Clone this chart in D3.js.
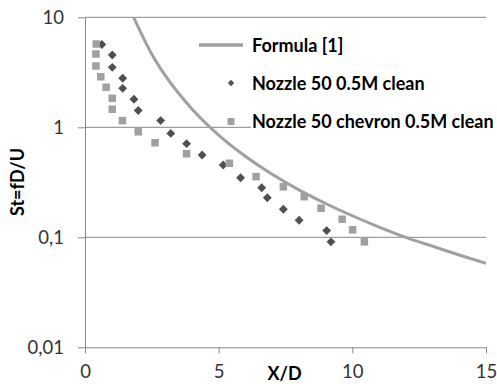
<!DOCTYPE html>
<html>
<head>
<meta charset="utf-8">
<script src="https://cdn.jsdelivr.net/npm/d3@7"></script>
<style>
  html, body { margin: 0; padding: 0; background: #fff; }
  svg { display: block; font-family: Lato, 'Open Sans', sans-serif; }
</style>
</head>
<body>
<div id="chart"></div>
<script>
// values
const xTicks = [0, 5, 10, 15];
const yTicks = [0.01, 0.1, 1, 10];
const yTickLabels = ['0,01', '0,1', '1', '10'];

const formulaX = [1.82, 2.5, 3, 4, 5, 6, 7, 8, 9, 10, 11, 12, 13, 14, 15];
const formulaY = [10, 4.62, 2.96, 1.47, 0.85, 0.545, 0.374, 0.27, 0.203, 0.157, 0.124, 0.1, 0.083, 0.069, 0.058];

const cleanX = [0.63, 1.02, 1.02, 1.41, 1.41, 1.83, 1.99, 2.83, 3.21, 3.8, 4.38, 5.17, 5.82, 6.61, 6.82, 7.42, 8.01, 9.04, 9.2];
const cleanY = [5.66, 4.54, 3.51, 2.79, 2.26, 1.8, 1.42, 1.15, 0.88, 0.71, 0.56, 0.454, 0.348, 0.282, 0.229, 0.18, 0.143, 0.115, 0.091];

const chevronX = [0.42, 0.41, 0.41, 0.59, 0.79, 1.02, 1.02, 1.4, 1.99, 2.62, 3.8, 5.4, 6.4, 7.42, 8.2, 8.83, 9.62, 10.01, 10.45];
const chevronY = [5.72, 4.64, 3.61, 2.88, 2.31, 1.835, 1.46, 1.15, 0.91, 0.724, 0.575, 0.471, 0.356, 0.288, 0.234, 0.184, 0.146, 0.117, 0.091];

const seriesNames = ['Formula [1]', 'Nozzle 50 0.5M clean', 'Nozzle 50 chevron 0.5M clean'];

const width = 497;
const height = 384;
const plot = { left: 85, right: 486, top: 17.3, bottom: 347.3 };

const gridColor = '#868686';
const lineColor = '#a0a0a0';
const cleanColor = '#505050';
const chevronColor = '#a0a0a0';

const svg = d3.select('#chart')
  .append('svg')
  .attr('width', width)
  .attr('height', height);

const x = d3.scaleLinear()
  .domain([0, 15])
  .range([plot.left, plot.right]);

const y = d3.scaleLog()
  .domain([0.01, 10])
  .range([plot.bottom, plot.top]);

// horizontal gridlines
svg.append('g')
  .selectAll('line')
  .data(yTicks.filter(d => d > 0.01))
  .enter()
  .append('line')
  .attr('x1', plot.left)
  .attr('x2', plot.right)
  .attr('y1', d => y(d))
  .attr('y2', d => y(d))
  .attr('stroke', gridColor)
  .attr('stroke-width', 1);

// y axis
const yAxis = svg.append('g')
  .attr('transform', 'translate(' + plot.left + ',0)')
  .call(d3.axisLeft(y)
    .tickValues(yTicks)
    .tickFormat((d, i) => yTickLabels[i])
    .tickSize(7)
    .tickSizeOuter(0)
    .tickPadding(14));
yAxis.select('.domain').attr('stroke', gridColor);
yAxis.selectAll('.tick line').attr('stroke', gridColor);
yAxis.selectAll('.tick text')
  .attr('dy', '0.36em')
  .style('font-family', 'Lato, sans-serif')
  .style('font-size', '18.5px')
  .attr('fill', '#333');

// x axis
const xAxis = svg.append('g')
  .attr('transform', 'translate(0,' + plot.bottom + ')')
  .call(d3.axisBottom(x)
    .tickValues(xTicks)
    .tickSize(6)
    .tickSizeOuter(0)
    .tickPadding(8));
xAxis.select('.domain').attr('stroke', gridColor);
xAxis.selectAll('.tick line').attr('stroke', gridColor);
xAxis.selectAll('.tick text')
  .attr('dy', '0.88em')
  .style('font-family', 'Lato, sans-serif')
  .style('font-size', '18.5px')
  .attr('fill', '#333');

// axis titles
svg.append('text')
  .attr('x', 284.5)
  .attr('y', 380)
  .attr('text-anchor', 'middle')
  .style('font-size', '18px')
  .style('font-weight', 'bold')
  .text('X/D');

svg.append('text')
  .attr('transform', 'translate(24,182) rotate(-90)')
  .attr('text-anchor', 'middle')
  .style('font-size', '18px')
  .style('font-weight', 'bold')
  .text('St=fD/U');

// formula curve
const formula = formulaX.map((d, i) => ({ x: d, y: formulaY[i] }));
svg.append('path')
  .datum(formula)
  .attr('fill', 'none')
  .attr('stroke', lineColor)
  .attr('stroke-width', 3)
  .attr('d', d3.line()
    .x(d => x(d.x))
    .y(d => y(d.y))
    .curve(d3.curveMonotoneX));

// measured points
const chevron = chevronX.map((d, i) => ({ x: d, y: chevronY[i] }));
const clean = cleanX.map((d, i) => ({ x: d, y: cleanY[i] }));

svg.append('g')
  .selectAll('path')
  .data(clean)
  .enter()
  .append('path')
  .attr('d', d3.symbol().type(d3.symbolDiamond2).size(50))
  .attr('transform', d => 'translate(' + x(d.x) + ',' + y(d.y) + ')')
  .attr('fill', cleanColor);

svg.append('g')
  .selectAll('rect')
  .data(chevron)
  .enter()
  .append('rect')
  .attr('x', d => x(d.x) - 3.75)
  .attr('y', d => y(d.y) - 3.75)
  .attr('width', 7.5)
  .attr('height', 7.5)
  .attr('fill', chevronColor);

// legend
const legend = svg.append('g');
legend.append('rect')
  .attr('x', 251)
  .attr('y', 30)
  .attr('width', 246)
  .attr('height', 106)
  .attr('fill', '#fff');

const rows = [45, 83, 121.5];
legend.append('line')
  .attr('x1', 199)
  .attr('x2', 243)
  .attr('y1', rows[0])
  .attr('y2', rows[0])
  .attr('stroke', lineColor)
  .attr('stroke-width', 3.5);
legend.append('path')
  .attr('d', d3.symbol().type(d3.symbolDiamond2).size(26))
  .attr('transform', 'translate(231,' + rows[1] + ')')
  .attr('fill', cleanColor);
legend.append('rect')
  .attr('x', 227.5)
  .attr('y', rows[2] - 3.5)
  .attr('width', 7)
  .attr('height', 7)
  .attr('fill', chevronColor);

legend.selectAll('text')
  .data(seriesNames)
  .enter()
  .append('text')
  .attr('x', 252)
  .attr('y', (d, i) => rows[i] + 6.5)
  .style('font-size', '18px')
  .style('font-weight', 'bold')
  .attr('fill', '#000')
  .text(d => d);
</script>
</body>
</html>
